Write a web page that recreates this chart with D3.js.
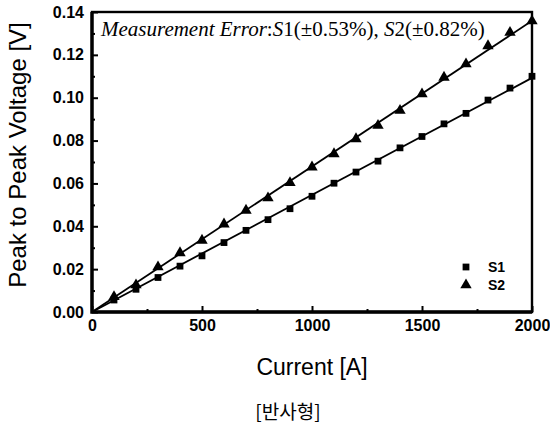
<!DOCTYPE html>
<html>
<head>
<meta charset="utf-8">
<script src="https://cdn.jsdelivr.net/npm/d3@7"></script>
<style>
  body { margin: 0; background: #fff; }
  svg { display: block; }
</style>
</head>
<body>
<svg id="chart" width="550" height="425"></svg>
<script>
// Measured peak-to-peak voltage against current for two sensors
const current = [100, 200, 300, 400, 500, 600, 700, 800, 900, 1000,
                 1100, 1200, 1300, 1400, 1500, 1600, 1700, 1800, 1900, 2000];
const s1Values = [0.0056, 0.0106, 0.0161, 0.0214, 0.0262, 0.0324, 0.0381, 0.0431, 0.0482, 0.0540,
                  0.0601, 0.0653, 0.0704, 0.0766, 0.0819, 0.0878, 0.0927, 0.0989, 0.1045, 0.1100];
const s2Values = [0.0071, 0.0126, 0.0210, 0.0276, 0.0334, 0.0410, 0.0474, 0.0532, 0.0603, 0.0676,
                  0.0738, 0.0808, 0.0870, 0.0940, 0.1017, 0.1095, 0.1157, 0.1242, 0.1304, 0.1358];
const seriesNames = ["S1", "S2"];
const xTicks = [0, 500, 1000, 1500, 2000];
const yTicks = [0.00, 0.02, 0.04, 0.06, 0.08, 0.10, 0.12, 0.14];

const svg = d3.select("#chart");
const margin = { left: 92, right: 18, top: 12, bottom: 113 };
const W = 550, H = 425;
const x = d3.scaleLinear().domain([0, 2000]).range([margin.left, W - margin.right]);
const y = d3.scaleLinear().domain([0, 0.14]).range([H - margin.bottom, margin.top]);

const sans = "'Liberation Sans', Arial, sans-serif";
const serif = "'Liberation Serif', 'Times New Roman', serif";

// Least-squares line through the origin for each series
function fitSlope(vals) {
  let sxy = 0, sxx = 0;
  current.forEach((c, i) => { sxy += c * vals[i]; sxx += c * c; });
  return sxy / sxx;
}

const series = [
  { name: seriesNames[0], values: s1Values, symbol: d3.symbolSquare, size: 46 },
  { name: seriesNames[1], values: s2Values, symbol: d3.symbolTriangle, size: 56 }
];

// Fit lines
series.forEach(s => {
  const k = fitSlope(s.values);
  const pts = [0, 2000].map(c => [c, k * c]);
  svg.append("path")
    .attr("d", d3.line().x(d => x(d[0])).y(d => y(d[1]))(pts))
    .attr("fill", "none")
    .attr("stroke", "#000")
    .attr("stroke-width", 1.8);
});

// Markers
series.forEach(s => {
  svg.append("g").selectAll("path")
    .data(s.values)
    .join("path")
    .attr("transform", (d, i) => `translate(${x(current[i])},${y(d)})`)
    .attr("d", d3.symbol().type(s.symbol).size(s.size))
    .attr("fill", "#000");
});

// Axes with inward ticks
const xAxis = d3.axisBottom(x).tickValues(xTicks).tickSize(-6).tickPadding(8).tickFormat(d3.format("d"));
const yAxis = d3.axisLeft(y).tickValues(yTicks).tickSize(-6).tickPadding(8).tickFormat(d3.format(".2f"));

const gx = svg.append("g").attr("transform", `translate(0,${y(0)})`).call(xAxis);
const gy = svg.append("g").attr("transform", `translate(${x(0)},0)`).call(yAxis);

// Minor ticks
const xMinor = d3.range(250, 2000, 500);
const yMinor = d3.range(0.01, 0.14, 0.02);
const gxm = svg.append("g").attr("transform", `translate(0,${y(0)})`)
  .call(d3.axisBottom(x).tickValues(xMinor).tickSize(-3).tickFormat(""));
const gym = svg.append("g").attr("transform", `translate(${x(0)},0)`)
  .call(d3.axisLeft(y).tickValues(yMinor).tickSize(-3).tickFormat(""));

[gx, gy, gxm, gym].forEach(g => {
  g.select(".domain").remove();
  g.selectAll(".tick line").attr("stroke", "#000").attr("stroke-width", 2);
  g.selectAll(".tick text")
    .attr("fill", "#000")
    .style("font-family", sans)
    .style("font-weight", "bold")
    .style("font-size", "16px");
});

// Frame
svg.append("rect")
  .attr("x", x(0)).attr("y", y(0.14))
  .attr("width", x(2000) - x(0)).attr("height", y(0) - y(0.14))
  .attr("fill", "none").attr("stroke", "#000").attr("stroke-width", 2.4);
svg.append("path")
  .attr("d", `M${x(0)},${y(0.14)}V${y(0)}H${x(2000)}`)
  .attr("fill", "none").attr("stroke", "#000").attr("stroke-width", 3.4);

// Annotation text
const note = svg.append("text")
  .attr("x", x(0) + 9).attr("y", y(0.14) + 24)
  .style("font-family", serif)
  .style("font-size", "21px")
  .attr("fill", "#000");
note.append("tspan").style("font-style", "italic").text("Measurement Error");
note.append("tspan").text(":");
note.append("tspan").style("font-style", "italic").text("S");
note.append("tspan").text("1(±0.53%), ");
note.append("tspan").style("font-style", "italic").text("S");
note.append("tspan").text("2(±0.82%)");

// Legend
const legend = svg.append("g").attr("transform", `translate(${x(1700)},${y(0.021)})`);
series.forEach((s, i) => {
  const row = legend.append("g").attr("transform", `translate(0,${i * 18})`);
  row.append("path").attr("d", d3.symbol().type(s.symbol).size(s.size)()).attr("fill", "#000");
  row.append("text")
    .attr("x", 22).attr("y", 5)
    .style("font-family", sans).style("font-weight", "bold").style("font-size", "14px")
    .text(s.name);
});

// Axis titles
svg.append("text")
  .attr("x", (x(0) + x(2000)) / 2).attr("y", 375)
  .attr("text-anchor", "middle")
  .style("font-family", sans).style("font-size", "23px")
  .text("Current [A]");

svg.append("text")
  .attr("transform", `translate(26,155) rotate(-90)`)
  .attr("text-anchor", "middle")
  .style("font-family", sans).style("font-size", "24px")
  .text("Peak to Peak Voltage [V]");

svg.append("text")
  .attr("x", 288).attr("y", 419)
  .attr("text-anchor", "middle")
  .style("font-family", "'Noto Sans CJK KR', sans-serif").style("font-size", "19px")
  .text("[반사형]");
</script>
</body>
</html>
